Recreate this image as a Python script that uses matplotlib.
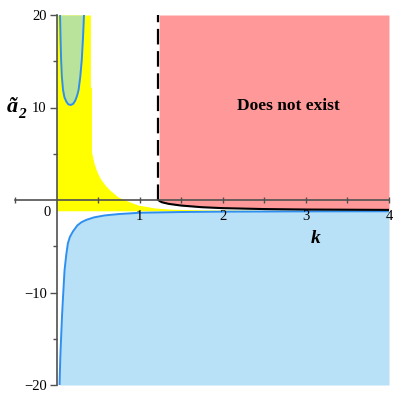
import matplotlib
matplotlib.use("Agg")
import matplotlib.pyplot as plt
from matplotlib.ticker import FixedLocator

# ---- data ----
# upper edge of the yellow region
yellow_k = [0.0, 0.407, 0.407, 0.42, 0.42, 0.45, 0.478, 0.51, 0.539, 0.59, 0.64, 0.69,
            0.735, 0.82, 0.98, 1.18, 1.4, 1.8, 2.5, 4.0]
yellow_top = [20, 20, 12.2, 12.2, 5.2, 4.0, 3.24, 2.6, 2.16, 1.55, 1.08, 0.7,
              0.36, 0.0, -0.54, -0.86, -1.0, -1.08, -1.12, -1.13]
yellow_bottom = -1.17

# blue curve (lower region boundary)
blue_k = [0.036, 0.045, 0.057, 0.066, 0.076, 0.096, 0.117, 0.136, 0.16, 0.197, 0.25,
          0.3, 0.358, 0.45, 0.578, 0.75, 1.0, 1.5, 2.0, 3.0, 4.0]
blue_y = [-20, -17, -14.4, -12.5, -10.8, -7.6, -5.9, -4.7, -4.0, -3.4, -2.75,
          -2.4, -2.15, -1.88, -1.67, -1.52, -1.38, -1.3, -1.26, -1.23, -1.22]

# green U-shaped region
green_k = [0.042, 0.048, 0.055, 0.064, 0.078, 0.095, 0.117, 0.14, 0.169, 0.2, 0.225,
           0.248, 0.265, 0.285, 0.303, 0.318, 0.33]
green_y = [20, 17.5, 15.1, 13.3, 11.9, 11.1, 10.65, 10.35, 10.27, 10.4, 10.75,
           11.3, 11.9, 13.3, 15.1, 17.5, 20]

# black boundary of the "does not exist" region
black_k = [1.225, 1.24, 1.27, 1.35, 1.5, 1.75, 2.0, 2.5, 3.0, 3.5, 4.0]
black_y = [0.0, -0.12, -0.25, -0.42, -0.6, -0.78, -0.88, -0.98, -1.03, -1.05, -1.07]
dash_k = 1.225

x_ticks = [1, 2, 3, 4]
x_ticklabels = ["1", "2", "3", "4"]
y_ticks = [-20, -10, 10, 20]
y_ticklabels = ["\u221220", "\u221210", "10", "20"]

# ---- style ----
plt.rcParams['font.family'] = ['Liberation Serif', 'DejaVu Serif']

YELLOW = '#FFFF00'
GREEN = '#B9E29B'
BLUEFILL = '#B8E1F8'
BLUELINE = '#2E8FF0'
RED = '#FF9999'
AXIS = '#505050'

fig = plt.figure(figsize=(4, 4), dpi=100)
ax = fig.add_axes([15 / 400, 15 / 400, 374 / 400, 370 / 400])
ax.set_xlim(-0.5, 4)
ax.set_ylim(-20, 20)

# yellow
ax.fill_between(yellow_k, yellow_bottom, yellow_top, color=YELLOW, lw=0, zorder=1)
# green
ax.fill_between(green_k, green_y, 20, color=GREEN, lw=0, zorder=2)
ax.plot(green_k, green_y, color=BLUELINE, lw=1.4, zorder=3)
# blue
ax.fill_between(blue_k, -20, blue_y, color=BLUEFILL, lw=0, zorder=2)
ax.plot(blue_k, blue_y, color=BLUELINE, lw=1.4, zorder=3)
# red
ax.fill_between([k + 0.01 if i == 0 else k for i, k in enumerate(black_k)], black_y, 20,
                color=RED, lw=0, zorder=2)
ax.plot(black_k, black_y, color='black', lw=1.5, zorder=4)
ax.plot([dash_k, dash_k], [0, 20], color='black', lw=1.6, ls=(0, (7, 3)), zorder=4)

# axes through origin
for s in ['top', 'right']:
    ax.spines[s].set_visible(False)
ax.spines['left'].set_position(('data', 0))
ax.spines['bottom'].set_position(('data', 0))
for s in ['left', 'bottom']:
    ax.spines[s].set_color(AXIS)
    ax.spines[s].set_linewidth(1.2)
    ax.spines[s].set_zorder(5)
ax.xaxis.set_zorder(6)
ax.yaxis.set_zorder(6)

ax.xaxis.set_major_locator(FixedLocator(x_ticks))
ax.set_xticklabels(x_ticklabels)
ax.xaxis.set_minor_locator(FixedLocator([-0.5, 0.5, 1.5, 2.5, 3.5]))
ax.yaxis.set_major_locator(FixedLocator(y_ticks))
ax.set_yticklabels(y_ticklabels)
ax.yaxis.set_minor_locator(FixedLocator([-15, -5, 5, 15]))

ax.tick_params(axis='x', which='both', direction='inout', length=4, width=1, color=AXIS,
               labelsize=10.5, pad=5)
ax.tick_params(axis='y', which='major', direction='out', length=5, width=1, color=AXIS,
               labelsize=10.5, pad=2)
ax.tick_params(axis='y', which='minor', direction='out', length=3, width=1, color=AXIS)

ax.text(-0.11, -1.3, "0", fontsize=10.5, ha='center', va='center', zorder=7)
ax.text(2.79, 10.2, "Does not exist", fontsize=12.5, fontweight='bold', ha='center',
        va='center', zorder=7)
ax.text(3.12, -4.2, "k", fontsize=14, fontweight='bold', fontstyle='italic',
        ha='center', va='center', zorder=7)
# y label: a-tilde with subscript 2
ax.text(-0.53, 10.1, "\u00e3", fontsize=16, fontweight='bold', fontstyle='italic',
        ha='center', va='center', zorder=7, clip_on=False)
ax.text(-0.415, 9.2, "2", fontsize=11, fontweight='bold', fontstyle='italic',
        ha='center', va='center', zorder=7, clip_on=False)

fig.savefig("out.png", dpi=100)
